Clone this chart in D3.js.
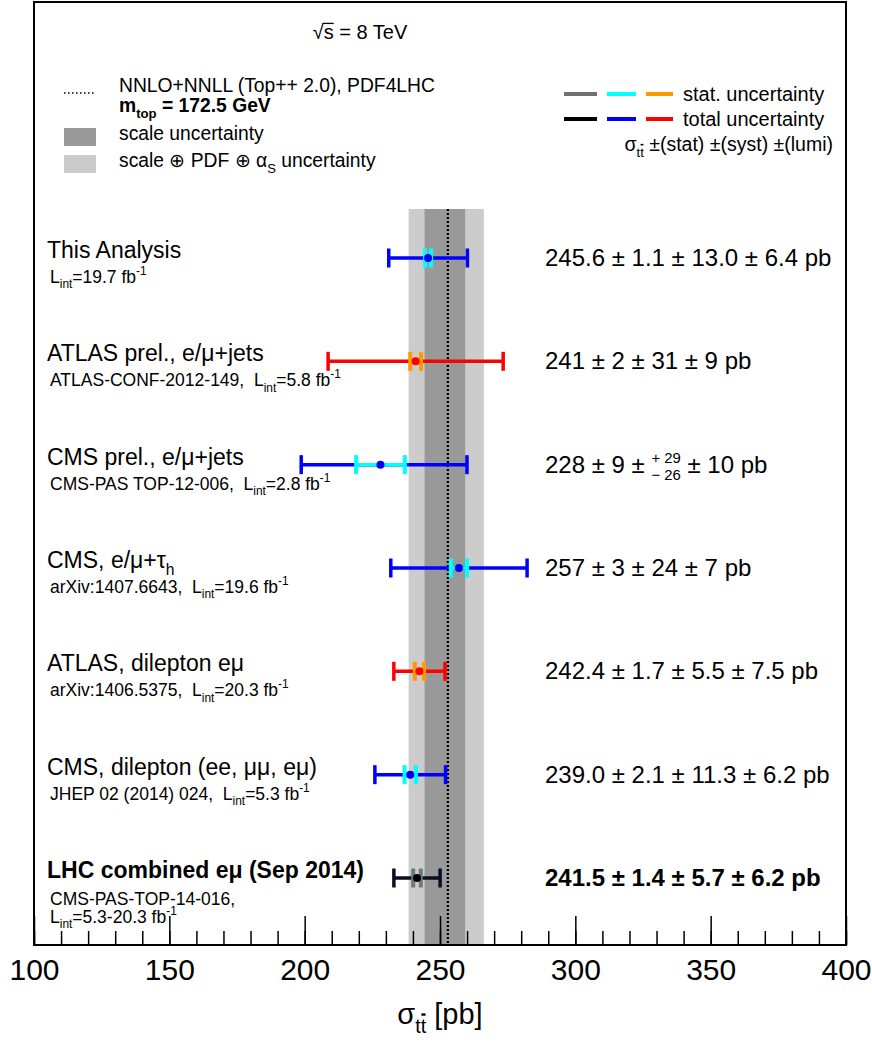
<!DOCTYPE html>
<html>
<head>
<meta charset="utf-8">
<script src="https://cdn.jsdelivr.net/npm/d3@7"></script>
<style>
  html, body { margin: 0; padding: 0; background: #fff; }
  svg { display: block; font-family: "Liberation Sans", Arial, Helvetica, sans-serif; }
</style>
</head>
<body>
<svg id="chart" width="872" height="1047"></svg>
<script>
// ---- Measurements of the top-pair cross section at sqrt(s) = 8 TeV ----
const labels = [
  "This Analysis",
  "ATLAS prel., e/μ+jets",
  "CMS prel., e/μ+jets",
  "CMS, e/μ+τ_{h}",
  "ATLAS, dilepton eμ",
  "CMS, dilepton (ee, μμ, eμ)",
  "LHC combined eμ (Sep 2014)"
];
const notes = [
  ["L_{int}=19.7 fb^{-1}"],
  ["ATLAS-CONF-2012-149,  L_{int}=5.8 fb^{-1}"],
  ["CMS-PAS TOP-12-006,  L_{int}=2.8 fb^{-1}"],
  ["arXiv:1407.6643,  L_{int}=19.6 fb^{-1}"],
  ["arXiv:1406.5375,  L_{int}=20.3 fb^{-1}"],
  ["JHEP 02 (2014) 024,  L_{int}=5.3 fb^{-1}"],
  ["CMS-PAS-TOP-14-016,", "L_{int}=5.3-20.3 fb^{-1}"]
];
const experiment = ["CMS", "ATLAS", "CMS", "CMS", "ATLAS", "CMS", "LHC"];
const xsec     = [245.6, 241, 228, 257, 242.4, 239.0, 241.5];
const statErr  = [1.1, 2, 9, 3, 1.7, 2.1, 1.4];
const systUp   = [13.0, 31, 29, 24, 5.5, 11.3, 5.7];
const systDown = [13.0, 31, 26, 24, 5.5, 11.3, 5.7];
const lumiErr  = [6.4, 9, 10, 7, 7.5, 6.2, 6.2];
const decimals = [1, 0, 0, 0, 1, 1, 1];
const highlighted = [false, false, false, false, false, false, true];

// NNLO+NNLL prediction (Top++ 2.0, PDF4LHC, mtop = 172.5 GeV)
const theoryCentral = 252.9;
const theoryScale = [244.3, 259.3];
const theoryTotal = [238.4, 266.2];

// axis ticks
const majorTicks = [100, 150, 200, 250, 300, 350, 400];
const minorTicks = d3.range(100, 401, 10);

// ---- colours ----
const statColor  = { CMS: "#00ffff", ATLAS: "#ff9900", LHC: "#6a7a7a" };
const totalColor = { CMS: "#0000ff", ATLAS: "#ff0000", LHC: "#0c0c24" };

// ---- layout ----
const svg = d3.select("#chart");
const frame = { left: 34, right: 846, top: 2, bottom: 945 };
const bandTop = 209;

const x = d3.scaleLinear().domain([100, 400]).range([frame.left, frame.right]);
const y = d3.scalePoint().domain(d3.range(labels.length)).range([258, 878]);

// ---- tiny TLatex-like text renderer: _{sub} ^{sup} #bar{..} #over{..} #stack{a}{b} ----
function readGroup(s, j) {
  let depth = 0, k = j;
  for (; k < s.length; k++) {
    if (s[k] === "{") depth++;
    else if (s[k] === "}") { depth--; if (depth === 0) break; }
  }
  return [s.slice(j + 1, k), k + 1];
}
function parse(s) {
  const out = []; let buf = ""; let i = 0;
  const flush = () => { if (buf) { out.push({ type: "text", body: buf }); buf = ""; } };
  while (i < s.length) {
    if ((s[i] === "_" || s[i] === "^") && s[i + 1] === "{") {
      flush(); const [b, n] = readGroup(s, i + 1);
      out.push({ type: s[i] === "_" ? "sub" : "sup", body: b }); i = n;
    } else if (s.startsWith("#bar{", i) || s.startsWith("#over{", i)) {
      flush(); const t = s.startsWith("#bar{", i) ? "bar" : "over";
      const [b, n] = readGroup(s, i + t.length + 1);
      out.push({ type: t, body: b }); i = n;
    } else if (s.startsWith("#stack{", i)) {
      flush(); const [a, n1] = readGroup(s, i + 6); const [b, n2] = readGroup(s, n1);
      out.push({ type: "stack", a, b }); i = n2;
    } else { buf += s[i++]; }
  }
  flush();
  return out;
}
function render(g, s, x0, y0, fs) {
  let cx = x0;
  for (const tk of parse(s)) {
    if (tk.type === "text") {
      const t = g.append("text").attr("x", cx).attr("y", y0)
        .attr("font-size", fs).style("white-space", "pre").text(tk.body);
      cx += t.node().getComputedTextLength();
    } else if (tk.type === "sub") {
      cx += render(g, tk.body, cx, y0 + fs * 0.3, fs * 0.68);
    } else if (tk.type === "sup") {
      cx += render(g, tk.body, cx, y0 - fs * 0.45, fs * 0.68);
    } else if (tk.type === "bar") {
      const w = render(g, tk.body, cx, y0, fs);
      g.append("line").attr("x1", cx + w * 0.12).attr("x2", cx + w * 0.88)
        .attr("y1", y0 - fs * 0.92).attr("y2", y0 - fs * 0.92)
        .attr("stroke", "currentColor").attr("stroke-width", Math.max(1.5, fs * 0.12));
      cx += w;
    } else if (tk.type === "over") {
      const w = render(g, tk.body, cx, y0, fs);
      g.append("line").attr("x1", cx - fs * 0.05).attr("x2", cx + w)
        .attr("y1", y0 - fs * 0.78).attr("y2", y0 - fs * 0.78)
        .attr("stroke", "currentColor").attr("stroke-width", 1.3);
      cx += w;
    } else if (tk.type === "stack") {
      const wa = render(g, tk.a, cx, y0 - fs * 0.42, fs * 0.62);
      const wb = render(g, tk.b, cx, y0 + fs * 0.3, fs * 0.62);
      cx += Math.max(wa, wb);
    }
  }
  return cx - x0;
}
function richText(parent, s, xPos, yPos, fs, opt = {}) {
  const g = parent.append("g").attr("fill", opt.fill || "#000")
    .style("color", opt.fill || "#000")
    .attr("font-weight", opt.weight || "normal");
  const w = render(g, s, 0, 0, fs);
  const dx = opt.anchor === "middle" ? -w / 2 : opt.anchor === "end" ? -w : 0;
  g.attr("transform", `translate(${xPos + dx},${yPos})`);
  return g;
}

// ---- theory bands ----
const bands = svg.append("g");
bands.append("rect")
  .attr("x", x(theoryTotal[0])).attr("width", x(theoryTotal[1]) - x(theoryTotal[0]))
  .attr("y", bandTop).attr("height", frame.bottom - bandTop).attr("fill", "#cccccc");
bands.append("rect")
  .attr("x", x(theoryScale[0])).attr("width", x(theoryScale[1]) - x(theoryScale[0]))
  .attr("y", bandTop).attr("height", frame.bottom - bandTop).attr("fill", "#999999");
bands.append("line")
  .attr("x1", x(theoryCentral)).attr("x2", x(theoryCentral))
  .attr("y1", bandTop).attr("y2", frame.bottom)
  .attr("stroke", "#000").attr("stroke-width", 2.2).attr("stroke-dasharray", "2,2");

// ---- axis with inward ticks ----
const axisG = svg.append("g").attr("transform", `translate(0,${frame.bottom})`);
axisG.append("g")
  .call(d3.axisBottom(x).tickValues(minorTicks).tickSizeInner(-14).tickSizeOuter(0).tickFormat(""))
  .call(g => g.select(".domain").remove())
  .call(g => g.selectAll("line").attr("stroke", "#000").attr("stroke-width", 1.5));
axisG.append("g")
  .call(d3.axisBottom(x).tickValues(majorTicks).tickSizeInner(-29).tickSizeOuter(0)
        .tickPadding(14).tickFormat(d3.format("d")))
  .call(g => g.select(".domain").remove())
  .call(g => g.selectAll("line").attr("stroke", "#000").attr("stroke-width", 1.5))
  .call(g => g.selectAll("text").attr("font-size", 30)
        .attr("font-family", '"Liberation Sans", Arial, sans-serif').attr("fill", "#000"));

richText(svg, "σ_{t#bar{t}} [pb]", x(250), 1024, 29, { anchor: "middle" });

// ---- frame ----
svg.append("rect")
  .attr("x", frame.left).attr("y", frame.top)
  .attr("width", frame.right - frame.left).attr("height", frame.bottom - frame.top)
  .attr("fill", "none").attr("stroke", "#000").attr("stroke-width", 2);

// ---- header and legends ----
richText(svg, "√#over{s} = 8 TeV", 360, 39, 20, { anchor: "middle" });

svg.append("line").attr("x1", 64).attr("x2", 94).attr("y1", 93).attr("y2", 93)
  .attr("stroke", "#000").attr("stroke-width", 1.5).attr("stroke-dasharray", "1.5,2.5");
richText(svg, "NNLO+NNLL (Top++ 2.0), PDF4LHC", 119, 92, 19.3);
richText(svg, "m_{top} = 172.5 GeV", 119, 112, 19.3, { weight: "bold" });
svg.append("rect").attr("x", 64).attr("y", 128).attr("width", 32).attr("height", 18).attr("fill", "#999999");
richText(svg, "scale uncertainty", 119, 140, 19.3);
svg.append("rect").attr("x", 64).attr("y", 155).attr("width", 32).attr("height", 18).attr("fill", "#cccccc");
richText(svg, "scale ⊕ PDF ⊕ α_{S} uncertainty", 119, 167, 19.3);

const legendExp = ["LHC", "CMS", "ATLAS"];
const legSeg = [[564, 597], [607, 636], [646, 673]];
legendExp.forEach((e, i) => {
  svg.append("line").attr("x1", legSeg[i][0]).attr("x2", legSeg[i][1]).attr("y1", 94).attr("y2", 94)
    .attr("stroke", e === "LHC" ? "#707070" : statColor[e]).attr("stroke-width", 4);
  svg.append("line").attr("x1", legSeg[i][0]).attr("x2", legSeg[i][1]).attr("y1", 119).attr("y2", 119)
    .attr("stroke", e === "LHC" ? "#000" : totalColor[e]).attr("stroke-width", 4);
});
richText(svg, "stat. uncertainty", 683, 101, 20);
richText(svg, "total uncertainty", 683, 126, 20);
richText(svg, "σ_{t#bar{t}} ±(stat) ±(syst) ±(lumi)", 833, 151, 19.5, { anchor: "end" });

// ---- measurements ----
const rows = svg.append("g");
const capH = 19;
labels.forEach((lab, i) => {
  const yy = y(i);
  const e = experiment[i];
  const totUp = Math.hypot(statErr[i], systUp[i], lumiErr[i]);
  const totDn = Math.hypot(statErr[i], systDown[i], lumiErr[i]);
  const g = rows.append("g");

  const bar = (lo, hi, color, capW) => {
    g.append("line").attr("x1", x(lo)).attr("x2", x(hi)).attr("y1", yy).attr("y2", yy)
      .attr("stroke", color).attr("stroke-width", 3.5);
    [lo, hi].forEach(v => g.append("line")
      .attr("x1", x(v)).attr("x2", x(v)).attr("y1", yy - capH / 2).attr("y2", yy + capH / 2)
      .attr("stroke", color).attr("stroke-width", capW));
  };
  bar(xsec[i] - totDn, xsec[i] + totUp, totalColor[e], 3.5);
  bar(xsec[i] - statErr[i], xsec[i] + statErr[i], statColor[e], 4);
  g.append("circle").attr("cx", x(xsec[i])).attr("cy", yy).attr("r", 4)
    .attr("fill", e === "LHC" ? "#000" : totalColor[e]);

  const weight = highlighted[i] ? "bold" : "normal";
  richText(rows, lab, 47, yy, 23, { weight });
  const noteY0 = notes[i].length > 1 ? yy + 27 : yy + 25;
  notes[i].forEach((n, k) => richText(rows, n, 50, noteY0 + k * 18, 17.5));

  const f = d3.format(`.${decimals[i]}f`);
  const syst = systUp[i] === systDown[i]
    ? f(systUp[i])
    : `#stack{+ ${f(systUp[i])}}{− ${f(systDown[i])}}`;
  const valueText = `${f(xsec[i])} ± ${f(statErr[i])} ± ${syst} ± ${f(lumiErr[i])} pb`;
  richText(rows, valueText, 545, yy + 8, 24, { weight });
});
</script>
</body>
</html>
